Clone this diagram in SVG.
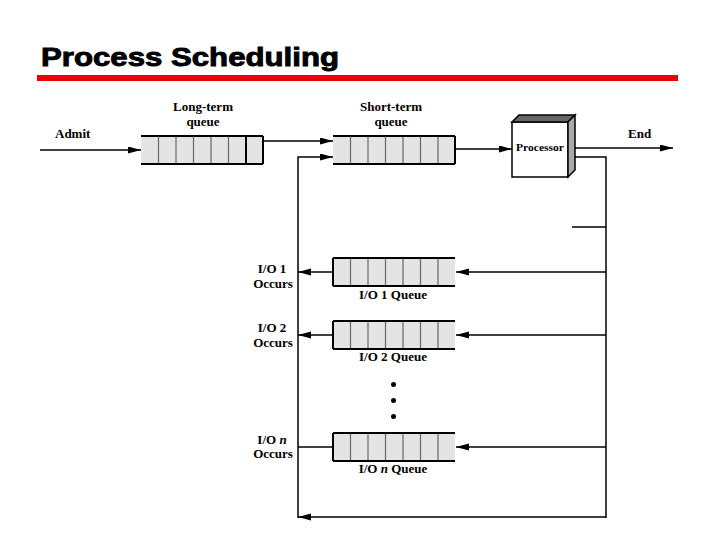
<svg xmlns="http://www.w3.org/2000/svg" xmlns:xlink="http://www.w3.org/1999/xlink" width="720" height="540" viewBox="0 0 720 540">
  <style>
    .lbl { font-family: "Liberation Serif", "Times New Roman", serif; font-weight: bold; font-size: 13px; fill: #000; }
    .mid { text-anchor: middle; }
    .ln { fill: none; stroke: #000; stroke-width: 1.5; }
    .arr { marker-end: url(#ah); }
    .cell { fill: #e4e4e4; stroke: none; }
    .div { stroke: #666; stroke-width: 1.2; }
    .edge { stroke: #000; stroke-width: 2; }
  </style>
  <defs>
    <marker id="ah" markerUnits="userSpaceOnUse" markerWidth="14" markerHeight="8" refX="13" refY="3.5" orient="auto">
      <path d="M0,0 L13,3.5 L0,7 z" fill="#000"/>
    </marker>
    <g id="queue">
      <rect class="cell" x="0" y="0" width="122" height="28"/>
      <line class="div" x1="17.5" y1="0" x2="17.5" y2="28"/>
      <line class="div" x1="35" y1="0" x2="35" y2="28"/>
      <line class="div" x1="52.5" y1="0" x2="52.5" y2="28"/>
      <line class="div" x1="70" y1="0" x2="70" y2="28"/>
      <line class="div" x1="87.5" y1="0" x2="87.5" y2="28"/>
      <line class="div" x1="105" y1="0" x2="105" y2="28"/>
      <line class="edge" x1="0" y1="0" x2="122" y2="0"/>
      <line class="edge" x1="0" y1="28" x2="122" y2="28"/>
    </g>
  </defs>
  <rect x="0" y="0" width="720" height="540" fill="#fff"/>

  <g id="title">
    <text x="41" y="66" font-family="'Liberation Sans', Arial, sans-serif" font-weight="bold" font-size="26" stroke="#000" stroke-width="0.9" textLength="298" lengthAdjust="spacingAndGlyphs">Process Scheduling</text>
    <rect x="37" y="75" width="641" height="6" fill="#ee0000"/>
  </g>

  <g id="connectors">
    <path class="ln arr" d="M40,150 H141"/>
    <path class="ln arr" d="M263,141 H333"/>
    <path class="ln arr" d="M298,518 V157 H333"/>
    <path class="ln arr" d="M455,149 H512"/>
    <path class="ln arr" d="M572,148 H673"/>
    <path class="ln" d="M575,157 H606 V518"/>
    <path class="ln" d="M572,227 H606"/>
    <path class="ln arr" d="M606,272 H456"/>
    <path class="ln arr" d="M333,272 H298"/>
    <path class="ln arr" d="M606,335 H456"/>
    <path class="ln arr" d="M333,335 H298"/>
    <path class="ln arr" d="M606,447 H456"/>
    <path class="ln" d="M333,447 H298"/>
    <path class="ln arr" d="M606,517 H298"/>
  </g>

  <g id="admit">
    <text class="lbl" x="55" y="138">Admit</text>
  </g>

  <g id="long-term-queue">
    <text class="lbl mid" x="203" y="111">Long-term</text>
    <text class="lbl mid" x="203" y="126">queue</text>
    <use xlink:href="#queue" x="141" y="136"/>
    <line class="edge" x1="246" y1="136" x2="246" y2="164"/>
    <line class="edge" x1="263" y1="136" x2="263" y2="164"/>
  </g>

  <g id="short-term-queue">
    <text class="lbl mid" x="391" y="111">Short-term</text>
    <text class="lbl mid" x="391" y="126">queue</text>
    <use xlink:href="#queue" x="333" y="136"/>
    <line class="edge" x1="455" y1="136" x2="455" y2="164"/>
  </g>

  <g id="processor">
    <rect x="512" y="122" width="56" height="55" fill="#fff" stroke="#000" stroke-width="1.5"/>
    <polygon points="512,122 519,115 575,115 568,122" fill="#666" stroke="#000" stroke-width="1.5"/>
    <polygon points="568,122 575,115 575,170 568,177" fill="#aaa" stroke="#000" stroke-width="1.5"/>
    <text class="lbl mid" x="540" y="151" font-size="11" textLength="48" lengthAdjust="spacingAndGlyphs" style="font-size:11px">Processor</text>
  </g>

  <g id="end">
    <text class="lbl" x="628" y="138">End</text>
  </g>

  <g id="io1-queue">
    <use xlink:href="#queue" x="333" y="258"/>
    <line class="edge" x1="333" y1="258" x2="333" y2="286"/>
    <text class="lbl mid" x="393" y="299">I/O 1 Queue</text>
    <text class="lbl mid" x="272" y="273">I/O 1</text>
    <text class="lbl mid" x="273" y="288">Occurs</text>
  </g>

  <g id="io2-queue">
    <use xlink:href="#queue" x="333" y="321"/>
    <line class="edge" x1="333" y1="321" x2="333" y2="349"/>
    <text class="lbl mid" x="393" y="361">I/O 2 Queue</text>
    <text class="lbl mid" x="272" y="332">I/O 2</text>
    <text class="lbl mid" x="273" y="347">Occurs</text>
  </g>

  <g id="ellipsis">
    <circle cx="393.5" cy="384.5" r="2.5" fill="#000"/>
    <circle cx="393.5" cy="400.5" r="2.5" fill="#000"/>
    <circle cx="393.5" cy="416.5" r="2.5" fill="#000"/>
  </g>

  <g id="ion-queue">
    <use xlink:href="#queue" x="333" y="433"/>
    <line class="edge" x1="333" y1="433" x2="333" y2="461"/>
    <text class="lbl mid" x="393" y="473">I/O <tspan font-style="italic">n</tspan> Queue</text>
    <text class="lbl mid" x="272" y="444">I/O <tspan font-style="italic">n</tspan></text>
    <text class="lbl mid" x="273" y="458">Occurs</text>
  </g>
</svg>
